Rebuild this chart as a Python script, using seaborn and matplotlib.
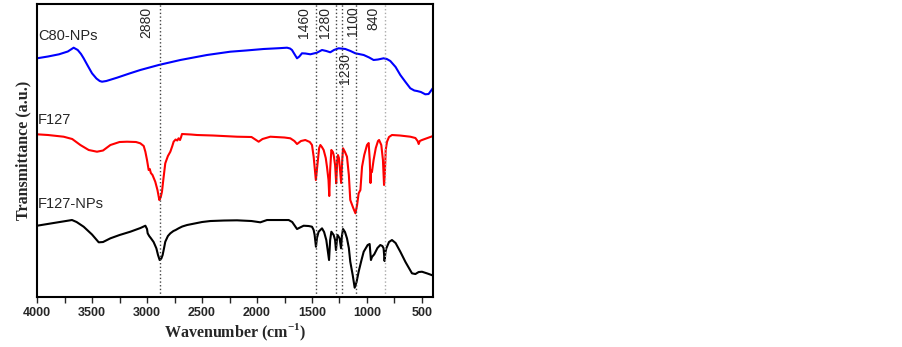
import numpy as np
import pandas as pd
import matplotlib
matplotlib.use("Agg")
import matplotlib.pyplot as plt
from matplotlib.ticker import MultipleLocator
import seaborn as sns

# FTIR spectra (wavenumber, offset transmittance in a.u.)
c80_wn = [4000, 3900, 3800, 3720, 3667, 3630, 3600, 3576, 3540, 3500, 3460, 3430, 3409, 3370,
          3273, 3160, 3061, 2894, 2697, 2455, 2243, 2100, 1940, 1800, 1727, 1700, 1682, 1660,
          1636, 1615, 1591, 1560, 1515, 1455, 1409, 1370, 1334, 1300, 1258, 1197, 1150, 1106,
          1030, 980, 940, 900, 849, 820, 788, 740, 697, 650, 606, 570, 545, 510, 470, 440, 420, 400]
c80_py = [58.3, 56.5, 54.3, 51.5, 47.7, 50, 54, 58.3, 65.5, 73.3, 78.5, 81, 81.7, 81,
          77.7, 73.5, 70, 65, 60, 55, 51.7, 50.5, 49, 48.2, 47.7, 48.5, 50, 54,
          58.3, 56.5, 53.3, 53.5, 54.3, 52.7, 50, 51, 52.3, 50, 48.3, 49, 51, 53.3,
          55, 57.5, 60, 59.5, 58.3, 59, 61, 67, 75, 82, 88.3, 90.5, 91, 92, 94.3, 94, 91, 88]

f127_wn = [4000, 3900, 3758, 3680, 3606, 3530, 3455, 3400, 3333, 3250, 3182, 3100, 3061, 3030,
           3015, 3000, 2985, 2975, 2965, 2950, 2925, 2905, 2888, 2875, 2864, 2850, 2834, 2810,
           2788, 2770, 2758, 2740, 2725, 2713, 2700, 2690, 2682, 2600, 2545, 2400, 2182, 2050,
           1985, 1950, 1879, 1750, 1697, 1660, 1636, 1600, 1561, 1520, 1500, 1485, 1465, 1449,
           1435, 1424, 1410, 1394, 1375, 1364, 1350, 1343, 1335, 1324, 1310, 1303, 1290, 1280,
           1270, 1264, 1255, 1249, 1235, 1225, 1218, 1200, 1182, 1165, 1152, 1125, 1105, 1090,
           1076, 1060, 1045, 1025, 1000, 985, 975, 968, 962, 955, 940, 920, 900, 890, 870, 855,
           845, 838, 830, 818, 800, 773, 700, 606, 560, 540, 530, 520, 500, 450, 400]
f127_py = [134.3, 135, 136.7, 139, 145, 150, 151.7, 150.5, 145, 142, 141.7, 142, 143.3, 146,
           151.7, 160, 170, 169, 173, 175, 181.7, 190, 200, 197, 191.7, 178, 163.3, 156,
           151.7, 146, 141.7, 139.5, 140.5, 138.3, 140, 137, 134, 134.5, 135, 135.5, 136.7, 137,
           141.7, 139, 136.7, 137.5, 138.3, 141, 144, 141, 140, 142, 145, 156.7, 180, 163,
           148, 145, 147, 150, 158, 166.7, 180, 196, 170, 150, 152, 155, 165, 183.3,
           160, 155, 158, 165, 183, 160, 148.3, 152, 156.7, 175, 200, 208, 213.3, 205,
           193.3, 190, 166.7, 155, 145, 143, 160, 183, 170, 172, 160, 148, 141, 140, 145, 160,
           185, 175, 150, 141.7, 137, 135, 135.5, 136.7, 138, 141, 144, 141, 140, 138, 136]

f127np_wn = [4000, 3850, 3682, 3640, 3576, 3500, 3439, 3400, 3333, 3250, 3152, 3060, 3015, 3000,
             2994, 2980, 2964, 2940, 2915, 2900, 2885, 2870, 2858, 2845, 2834, 2810, 2788, 2760,
             2740, 2713, 2680, 2636, 2500, 2424, 2300, 2182, 2050, 1970, 1909, 1800, 1712, 1680,
             1636, 1600, 1576, 1530, 1500, 1485, 1476, 1464, 1455, 1440, 1409, 1390, 1370, 1345,
             1335, 1324, 1303, 1290, 1282, 1272, 1267, 1249, 1236, 1228, 1218, 1200, 1182, 1165,
             1152, 1130, 1112, 1095, 1076, 1050, 1030, 994, 976, 964, 955, 934, 905, 879, 860,
             849, 840, 832, 824, 800, 773, 740, 697, 650, 591, 560, 530, 500, 450, 400]
f127np_py = [225.7, 223, 220, 222, 226.7, 234.5, 242.3, 242, 238.3, 235, 231.7, 228, 225.7, 229,
             233.3, 236, 238.3, 242, 248.3, 255, 260, 258.5, 255, 248, 241.7, 236, 233.3, 231,
             230, 228.3, 226.5, 225, 222, 221, 220.5, 220.3, 221, 222.3, 220, 220, 220, 222,
             229, 227, 225.7, 226, 226.7, 230, 235, 246.7, 238, 231.7, 228.3, 232, 240, 260,
             240, 231.7, 235, 240, 250, 238, 235, 238.3, 248.3, 236, 229, 232, 238.3, 248,
             261.7, 275, 287.7, 282, 271.7, 260, 251.7, 245, 244, 260, 257, 254.3, 248, 245, 246,
             248.3, 261, 252, 248.3, 242, 240, 243, 251.7, 262, 273.3, 274, 272, 271.7, 273.5, 275.5]

spectra = [("C80-NPs", c80_wn, c80_py, "#0000ff"),
           ("F127", f127_wn, f127_py, "#ff0000"),
           ("F127-NPs", f127np_wn, f127np_py, "#000000")]

# name label position (baseline, in the same a.u. scale)
name_y = [257, 173.5, 89]

# assigned band positions and where their labels sit
peak_wn = [2880, 1460, 1280, 1230, 1100, 840]
peak_label_x = [3009, 1576, 1379, 1197, 1125, 943]
peak_label_top = [0.991, 0.991, 0.991, 0.833, 0.991, 0.991]
peak_color = ["#444444", "#444444", "#444444", "#444444", "#444444", "#aaaaaa"]

sns.set_style("white")
plt.rcParams["font.family"] = ["Liberation Sans", "DejaVu Sans"]
plt.rcParams["mathtext.fontset"] = "custom"
plt.rcParams["mathtext.rm"] = "Liberation Serif:bold"
plt.rcParams["mathtext.bf"] = "Liberation Serif:bold"

fig, ax = plt.subplots(figsize=(9.03, 3.47), dpi=100)
fig.subplots_adjust(left=0.041, right=0.4795, bottom=0.144, top=0.9885)

for (name, wn, py, color), ly in zip(spectra, name_y):
    df = pd.DataFrame({"wn": wn, "T": 297 - np.array(py)})
    sns.lineplot(data=df, x="wn", y="T", ax=ax, color=color, linewidth=1.5,
                 estimator=None, sort=False)
    ax.text(3990, ly, name, fontsize=10.5, ha="left", va="baseline")

for wn, lx, top, c in zip(peak_wn, peak_label_x, peak_label_top, peak_color):
    ax.axvline(wn, color=c, linestyle=":", linewidth=1)
    ax.text(lx, top, str(wn), transform=ax.get_xaxis_transform(), rotation=90,
            fontsize=10, ha="center", va="top")

ax.set_xlim(4000, 400)
ax.set_ylim(0, 293)
ax.set_yticks([])
ax.xaxis.set_major_locator(MultipleLocator(500))
ax.xaxis.set_minor_locator(MultipleLocator(250))
ax.tick_params(axis="x", which="both", direction="out", length=4, width=1, bottom=True, pad=3)
for lab in ax.get_xticklabels():
    lab.set_fontweight("bold")
    lab.set_fontsize(9)
for sp in ax.spines.values():
    sp.set_linewidth(1.5)
    sp.set_color("black")

ax.set_xlabel(r"Wavenumber (cm$^{-1}$)", fontsize=11.5, fontweight="bold",
              family="Liberation Serif", labelpad=2)
ax.set_ylabel("Transmittance (a.u.)", fontsize=11.5, fontweight="bold",
              family="Liberation Serif", labelpad=4)

fig.savefig("out.png", dpi=100)
